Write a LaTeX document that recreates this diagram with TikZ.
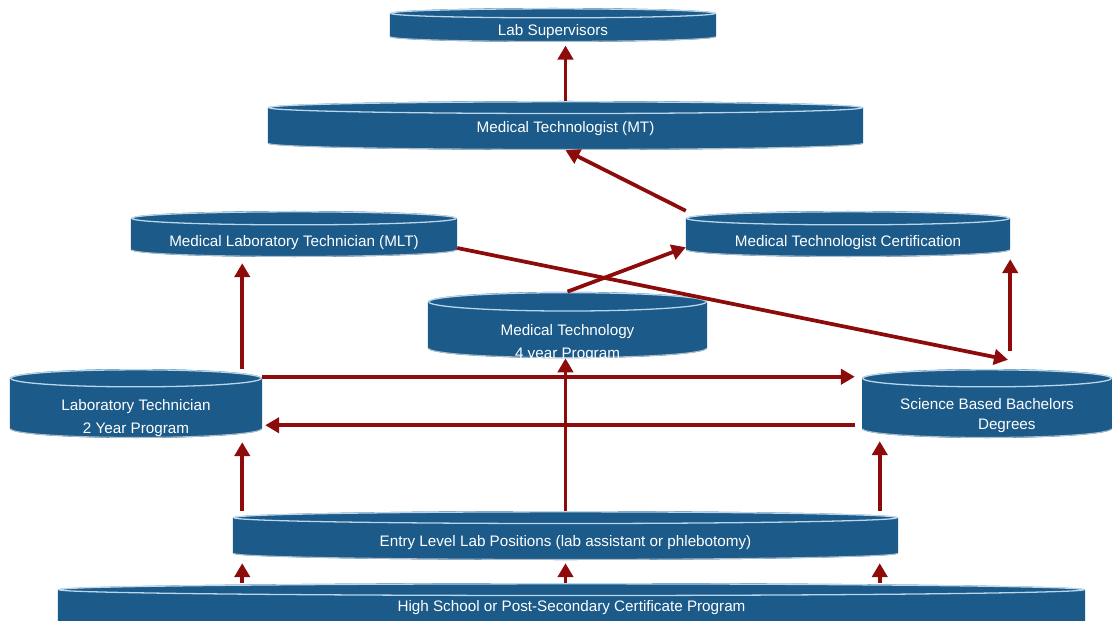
\documentclass[tikz,border=0pt]{standalone}
\usepackage{fontspec}
\setmainfont{Liberation Sans}
\usetikzlibrary{arrows.meta,calc}
\definecolor{cylblue}{HTML}{1B5A89}
\definecolor{cylrim}{HTML}{B9D6EC}
\definecolor{flowred}{HTML}{8E0B0B}
\newcommand{\cylfont}{\fontsize{13}{19.5}\selectfont}
\newcommand{\cylry}{0.26cm}

\tikzset{
  cylry/.code={\def\cylry{#1}},
  cyl/.style={rectangle, inner sep=0pt, align=center, text=white,
    font=\cylfont, text depth=0pt,
    path picture={
      \fill[cylblue] let \p1=(path picture bounding box.south west),
        \p2=(path picture bounding box.north east), \n1={(\x2-\x1)/2} in
        (\x1,\y2-\cylry) -- (\x1,\y1+\cylry)
        arc[start angle=180, end angle=360, x radius={\n1*1pt}, y radius=\cylry]
        -- (\x2,\y2-\cylry)
        arc[start angle=0, end angle=180, x radius={\n1*1pt}, y radius=\cylry] -- cycle;
      \draw[cylrim, line width=1.1pt] let \p1=(path picture bounding box.south west),
        \p2=(path picture bounding box.north east), \n1={(\x2-\x1)/2} in
        ({(\x1+\x2)/2},\y2-\cylry) ellipse[x radius={\n1*1pt-0.7pt}, y radius={\cylry-0.7pt}];
      \draw[cylrim!70!gray, line width=0.9pt] let \p1=(path picture bounding box.south west),
        \p2=(path picture bounding box.north east), \n1={(\x2-\x1)/2} in
        (\x1+0.5pt,\y1+\cylry)
        arc[start angle=180, end angle=360, x radius={\n1*1pt-0.5pt}, y radius={\cylry-0.5pt}];
    }},
  flow/.style={draw=flowred, line width=3.2pt, -{Triangle[length=4.2mm,width=4.6mm]}}
}

\begin{document}
\begin{tikzpicture}[x=0.03cm, y=-0.03cm]
\useasboundingbox (0,0) rectangle (1112,621);

% career levels
\node[cyl, cylry=0.16cm, minimum width=9.78cm, minimum height=1.02cm, text height=17.5pt]
  (sup) at (553,25) {Lab Supervisors};
\node[cyl, cylry=0.2cm, minimum width=17.85cm, minimum height=1.47cm, text height=12.4pt]
  (mt) at (565.5,125.5) {Medical Technologist (MT)};
\node[cyl, cylry=0.22cm, minimum width=9.78cm, minimum height=1.38cm, text height=21pt]
  (mlt) at (294,234) {Medical Laboratory Technician (MLT)};
\node[cyl, cylry=0.22cm, minimum width=9.72cm, minimum height=1.38cm, text height=21pt]
  (mtcert) at (848,234) {Medical Technologist Certification};
\node[cyl, cylry=0.3cm, minimum width=8.37cm, minimum height=1.92cm, text height=56.6pt]
  (medtech) at (567.5,325) {Medical Technology\\4 year Program};
\node[cyl, cylry=0.28cm, minimum width=7.56cm, minimum height=2.07cm, text height=50.6pt]
  (labtech) at (136,403.5) {Laboratory Technician\\2 Year Program};
\node[cyl, cylry=0.28cm, minimum width=7.5cm, minimum height=2.07cm, text height=43.8pt]
  (bach) at (987,403.5) {Science Based Bachelors\\[-3pt]\hspace*{2.6em}Degrees};
\node[cyl, cylry=0.2cm, minimum width=19.95cm, minimum height=1.47cm, text height=19.2pt]
  (entry) at (565.5,535.5) {Entry Level Lab Positions (lab assistant or phlebotomy)};
\node[cyl, cylry=0.2cm, minimum width=30.81cm, minimum height=1.38cm, text height=9pt]
  (hs) at (571.5,606) {High School or Post-Secondary Certificate Program};

% paths between levels
\draw[flow, shorten >=1mm] (mt.north) -- (mt.north |- sup.south);
\draw[flow] (mtcert.north west) -- (mt.south);
\draw[flow] (medtech.north) -- ($(mtcert.south west)+(0,-10)$);
\draw[flow] ($(mlt.east)+(0,14)$) -- ($(bach.north)+(21,-9)$);
\draw[flow] ($(bach.north -| mtcert.south east)+(0,-18)$) -- ($(mtcert.south east)+(0,2)$);
\draw[flow] ($(labtech.north east)+(-20,0)$) -- ($(mlt.south -| labtech.north east)+(-20,6)$);
\draw[flow] ($(labtech.north east)+(0,8)$) -- ($(bach.north west)+(-7,8)$);
\draw[flow] ($(bach.south west)+(-7,-13)$) -- ($(labtech.south east)+(3,-13)$);
\draw[flow] ($(entry.north -| labtech.east)+(-20,0)$) -- ($(labtech.south east)+(-20,4)$);
\draw[flow] (entry.north) -- (entry.north |- medtech.south);
\draw[flow] ($(entry.north -| bach.west)+(18,0)$) -- ($(bach.south west)+(18,3)$);
\draw[flow] ($(hs.north -| labtech.east)+(-20,0)$) -- ($(entry.south -| labtech.east)+(-20,3)$);
\draw[flow] (hs.north -| entry.south) -- ($(entry.south)+(0,3)$);
\draw[flow] ($(hs.north -| bach.west)+(18,0)$) -- ($(entry.south -| bach.west)+(18,3)$);
\end{tikzpicture}
\end{document}
